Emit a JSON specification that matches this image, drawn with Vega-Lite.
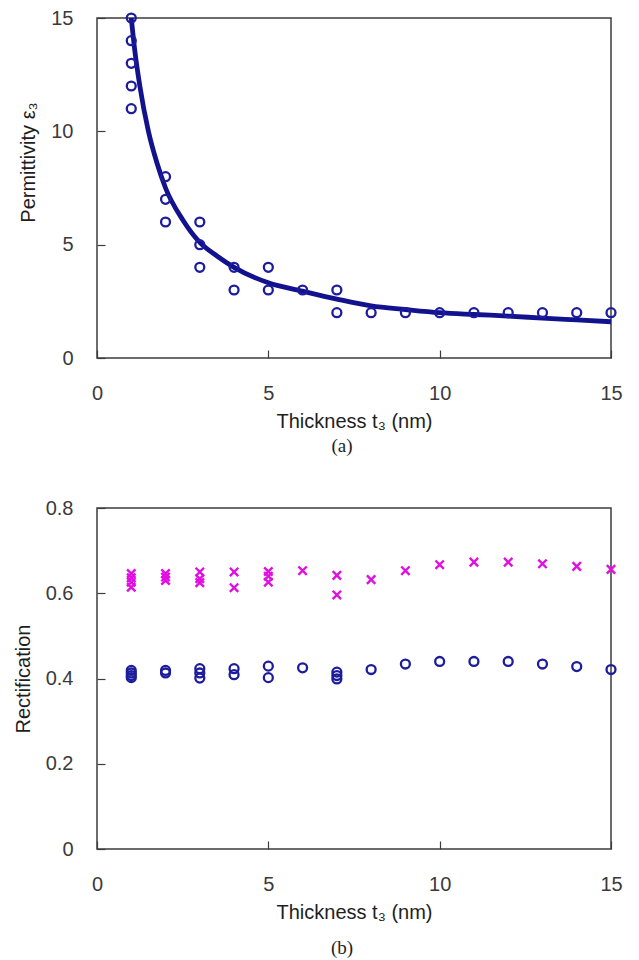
{
  "$schema": "https://vega.github.io/schema/vega-lite/v6.json",
  "background": "white",
  "autosize": {"type": "pad"},
  "padding": {"left": 12, "top": 7, "right": 10, "bottom": 0},
  "datasets": {
    "fit": [
      {"t": 1.0, "eps": 15.0}, {"t": 1.1, "eps": 13.6}, {"t": 1.25, "eps": 12.0},
      {"t": 1.5, "eps": 10.0}, {"t": 1.75, "eps": 8.6}, {"t": 2.0, "eps": 7.5},
      {"t": 2.5, "eps": 6.1}, {"t": 3.0, "eps": 5.1}, {"t": 3.5, "eps": 4.5},
      {"t": 4.0, "eps": 4.0}, {"t": 5.0, "eps": 3.32}, {"t": 6.0, "eps": 2.95},
      {"t": 7.0, "eps": 2.6}, {"t": 8.0, "eps": 2.3}, {"t": 9.0, "eps": 2.14},
      {"t": 10.0, "eps": 2.0}, {"t": 11.0, "eps": 1.92}, {"t": 12.0, "eps": 1.85},
      {"t": 13.0, "eps": 1.76}, {"t": 14.0, "eps": 1.68}, {"t": 15.0, "eps": 1.6}
    ],
    "perm": [
      {"t": 1, "eps": 15}, {"t": 1, "eps": 14}, {"t": 1, "eps": 13}, {"t": 1, "eps": 12}, {"t": 1, "eps": 11},
      {"t": 2, "eps": 8}, {"t": 2, "eps": 7}, {"t": 2, "eps": 6},
      {"t": 3, "eps": 6}, {"t": 3, "eps": 5}, {"t": 3, "eps": 4},
      {"t": 4, "eps": 4}, {"t": 4, "eps": 3},
      {"t": 5, "eps": 4}, {"t": 5, "eps": 3},
      {"t": 6, "eps": 3},
      {"t": 7, "eps": 3}, {"t": 7, "eps": 2},
      {"t": 8, "eps": 2}, {"t": 9, "eps": 2}, {"t": 10, "eps": 2}, {"t": 11, "eps": 2},
      {"t": 12, "eps": 2}, {"t": 13, "eps": 2}, {"t": 14, "eps": 2}, {"t": 15, "eps": 2}
    ],
    "rect": [
      {"t": 1, "r": 0.646, "s": "x"}, {"t": 1, "r": 0.636, "s": "x"}, {"t": 1, "r": 0.626, "s": "x"}, {"t": 1, "r": 0.614, "s": "x"},
      {"t": 2, "r": 0.646, "s": "x"}, {"t": 2, "r": 0.638, "s": "x"}, {"t": 2, "r": 0.630, "s": "x"},
      {"t": 3, "r": 0.650, "s": "x"}, {"t": 3, "r": 0.634, "s": "x"}, {"t": 3, "r": 0.625, "s": "x"},
      {"t": 4, "r": 0.650, "s": "x"}, {"t": 4, "r": 0.613, "s": "x"},
      {"t": 5, "r": 0.651, "s": "x"}, {"t": 5, "r": 0.640, "s": "x"}, {"t": 5, "r": 0.626, "s": "x"},
      {"t": 6, "r": 0.653, "s": "x"},
      {"t": 7, "r": 0.642, "s": "x"}, {"t": 7, "r": 0.596, "s": "x"},
      {"t": 8, "r": 0.632, "s": "x"}, {"t": 9, "r": 0.653, "s": "x"}, {"t": 10, "r": 0.667, "s": "x"},
      {"t": 11, "r": 0.673, "s": "x"}, {"t": 12, "r": 0.673, "s": "x"}, {"t": 13, "r": 0.669, "s": "x"},
      {"t": 14, "r": 0.663, "s": "x"}, {"t": 15, "r": 0.656, "s": "x"},
      {"t": 1, "r": 0.419, "s": "o"}, {"t": 1, "r": 0.413, "s": "o"}, {"t": 1, "r": 0.407, "s": "o"}, {"t": 1, "r": 0.402, "s": "o"},
      {"t": 2, "r": 0.419, "s": "o"}, {"t": 2, "r": 0.413, "s": "o"},
      {"t": 3, "r": 0.423, "s": "o"}, {"t": 3, "r": 0.413, "s": "o"}, {"t": 3, "r": 0.401, "s": "o"},
      {"t": 4, "r": 0.423, "s": "o"}, {"t": 4, "r": 0.409, "s": "o"},
      {"t": 5, "r": 0.429, "s": "o"}, {"t": 5, "r": 0.402, "s": "o"},
      {"t": 6, "r": 0.425, "s": "o"},
      {"t": 7, "r": 0.415, "s": "o"}, {"t": 7, "r": 0.407, "s": "o"}, {"t": 7, "r": 0.399, "s": "o"},
      {"t": 8, "r": 0.421, "s": "o"}, {"t": 9, "r": 0.434, "s": "o"}, {"t": 10, "r": 0.440, "s": "o"},
      {"t": 11, "r": 0.440, "s": "o"}, {"t": 12, "r": 0.440, "s": "o"}, {"t": 13, "r": 0.434, "s": "o"},
      {"t": 14, "r": 0.428, "s": "o"}, {"t": 15, "r": 0.421, "s": "o"}
    ]
  },
  "config": {
    "view": {"stroke": "#3c3c3c", "strokeWidth": 1.5},
    "font": "Liberation Sans",
    "axis": {
      "domain": false, "grid": false, "tickSize": -8, "tickColor": "#3c3c3c", "tickWidth": 1.2,
      "labelFont": "Liberation Sans", "labelFontSize": 20, "labelColor": "#3a3a3a", "labelFlush": false,
      "titleFont": "Liberation Sans", "titleFontSize": 20, "titleFontWeight": "normal", "titleColor": "#1e1e1e"
    },
    "axisY": {"labelPadding": 32, "titlePadding": 12},
    "axisX": {"labelPadding": 33, "titlePadding": 8},
    "title": {"font": "Liberation Serif", "fontSize": 19, "fontWeight": "normal", "color": "#1e1e1e", "orient": "bottom"}
  },
  "spacing": 40,
  "vconcat": [
    {
      "width": 514, "height": 340,
      "title": {"text": "(a)", "dx": -12, "offset": 6},
      "encoding": {
        "x": {"field": "t", "type": "quantitative", "scale": {"domain": [0, 15], "nice": false},
              "axis": {"values": [0, 5, 10, 15], "title": "Thickness t₃ (nm)"}},
        "y": {"field": "eps", "type": "quantitative", "scale": {"domain": [0, 15], "nice": false},
              "axis": {"values": [0, 5, 10, 15], "title": "Permittivity ε₃", "titleY": 144}}
      },
      "layer": [
        {"data": {"name": "fit"}, "mark": {"type": "line", "color": "#12128f", "strokeWidth": 4.8, "interpolate": "monotone"}},
        {"data": {"name": "perm"}, "mark": {"type": "point", "shape": "circle", "filled": false, "color": "#1c1c9c", "strokeWidth": 2.3, "size": 80, "opacity": 1}}
      ]
    },
    {
      "width": 514, "height": 341,
      "title": {"text": "(b)", "dx": -12, "offset": 17},
      "data": {"name": "rect"},
      "encoding": {
        "x": {"field": "t", "type": "quantitative", "scale": {"domain": [0, 15], "nice": false},
              "axis": {"values": [0, 5, 10, 15], "title": "Thickness t₃ (nm)"}},
        "y": {"field": "r", "type": "quantitative", "scale": {"domain": [0, 0.8], "nice": false},
              "axis": {"values": [0, 0.2, 0.4, 0.6, 0.8], "format": "~g", "title": "Rectification"}}
      },
      "layer": [
        {"transform": [{"filter": "datum.s === 'x'"}],
         "mark": {"type": "point", "shape": "M-1,-1L1,1M-1,1L1,-1", "filled": false, "color": "#e010e0", "strokeWidth": 2.4, "size": 70, "opacity": 1}},
        {"transform": [{"filter": "datum.s === 'o'"}],
         "mark": {"type": "point", "shape": "circle", "filled": false, "color": "#1c1c9c", "strokeWidth": 2.3, "size": 80, "opacity": 1}}
      ]
    }
  ]
}
